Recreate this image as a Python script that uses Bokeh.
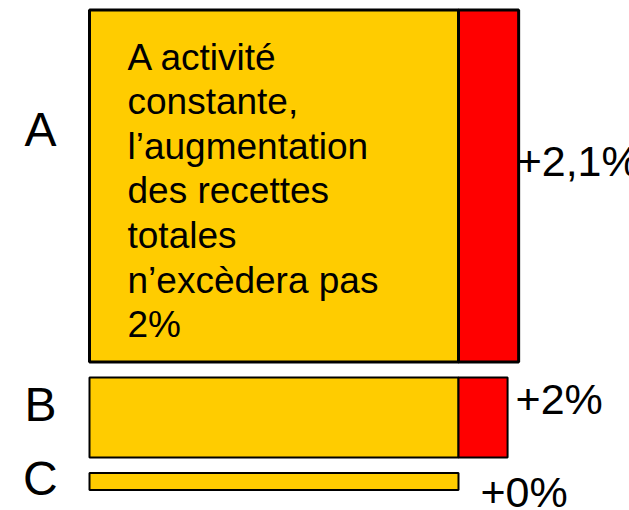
from bokeh.plotting import figure
from bokeh.models import Range1d, ColumnDataSource
from bokeh.core.properties import value
from bokeh.embed import file_html
from bokeh.resources import INLINE

# ---- data ----
categories = ["A", "B", "C"]
base_width = [100, 100, 100]          # activité (yellow part)
increase_width = [16.3, 13.3, 0.0]    # augmentation (red part)
bar_heights = [352, 80, 17]           # recettes
change_labels = ["+2,1%", "+2%", "+0%"]
note_text = "A activité\nconstante,\nl’augmentation\ndes recettes\ntotales\nn’excèdera pas\n2%"

# ---- layout (styles) ----
W, H = 629, 510
px_per_unit = 3.69
left_px = 89
gap = 15.5
top0 = 9.5

tops, bottoms = [], []
t = top0
for h in bar_heights:
    tops.append(t)
    bottoms.append(t + h)
    t = t + h + gap

p = figure(width=W, height=H, output_backend="svg", toolbar_location=None,
           x_range=Range1d(-left_px / px_per_unit, (W - left_px) / px_per_unit),
           y_range=Range1d(H, 0), min_border=0)
p.axis.visible = False
p.grid.visible = False
p.outline_line_color = None
p.background_fill_color = "white"
p.border_fill_color = "white"

lw = [3, 2, 2]
src_base = ColumnDataSource(dict(left=[0] * 3, right=base_width, top=tops, bottom=bottoms, lw=lw))
p.quad(left="left", right="right", top="top", bottom="bottom", source=src_base,
       fill_color="#FFCC00", line_color="black", line_width="lw")

inc_idx = [i for i, v in enumerate(increase_width) if v > 0]
src_inc = ColumnDataSource(dict(
    left=[base_width[i] for i in inc_idx],
    right=[base_width[i] + increase_width[i] for i in inc_idx],
    top=[tops[i] for i in inc_idx], bottom=[bottoms[i] for i in inc_idx],
    lw=[lw[i] for i in inc_idx]))
p.quad(left="left", right="right", top="top", bottom="bottom", source=src_inc,
       fill_color="#FF0000", line_color="black", line_width="lw")

# category labels
cat_y = [tp + h * 0.34 for tp, h in zip(tops, bar_heights)]
p.text(x=[-13.3] * 3, y=cat_y, text=categories, text_align="center", text_baseline="middle",
       text_font=value("Liberation Sans"), text_font_size="48px", text_color="black")

# change labels
rx = [b + i for b, i in zip(base_width, increase_width)]
ry = [(tp + bt) / 2 for tp, bt in zip(tops, bottoms)]
src_lab = ColumnDataSource(dict(x=rx, y=ry, text=change_labels,
                                xo=[-2, 8, 22], yo=[-25, -18.5, 10]))
p.text(x="x", y="y", text="text", x_offset="xo", y_offset="yo", source=src_lab,
       text_align="left", text_baseline="middle",
       text_font=value("Liberation Sans"), text_font_size="43px", text_color="black")

# note inside bar A
p.text(x=[0], y=[tops[0]], text=[note_text], x_offset=38, y_offset=26.5,
       text_align="left", text_baseline="top", text_line_height=1.088,
       text_font=value("Liberation Sans"), text_font_size="37px", text_color="black")

open("out.html", "w").write(file_html(p, INLINE))
